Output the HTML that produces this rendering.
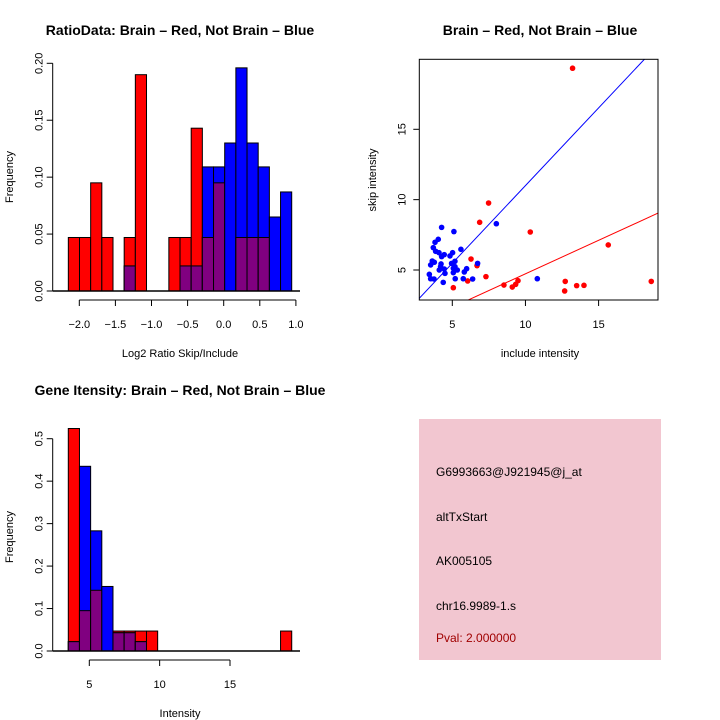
<!DOCTYPE html>
<html><head><meta charset="utf-8"><style>
html,body{margin:0;padding:0;background:#fff;}
svg{display:block;font-family:"Liberation Sans",sans-serif;}
</style></head><body>
<svg id="chart" width="720" height="720" xmlns="http://www.w3.org/2000/svg">
<rect width="720" height="720" fill="#fff"/>
<g id="p1"></g>
<g id="p2"></g>
<g id="p3"></g>
<g>
<rect x="419" y="419" width="242" height="241" fill="#f2c6d0"/>
<text x="436" y="476" font-size="12">G6993663@J921945@j_at</text>
<text x="436" y="521" font-size="12">altTxStart</text>
<text x="436" y="565" font-size="12">AK005105</text>
<text x="436" y="610" font-size="12">chr16.9989-1.s</text>
<text x="436" y="642" font-size="12" fill="#a00000">Pval: 2.000000</text>
</g>
</svg>
<script>
// ---- Data: ratio histogram ----
const ratioStart = -2.152;
const ratioWidth = 0.1547;
const ratioRed = [0.047,0.047,0.095,0.047,0,0.047,0.19,0,0,0.047,0.047,0.143,0.047,0.095,0,0.047,0.047,0.047,0,0];
const ratioBlue = [0,0,0,0,0,0.022,0,0,0,0,0.022,0.022,0.109,0.109,0.13,0.196,0.13,0.109,0.065,0.087];
const ratioXTicks = [-2.0,-1.5,-1.0,-0.5,0.0,0.5,1.0];
const ratioYTicks = [0.00,0.05,0.10,0.15,0.20];
// ---- Data: intensity histogram ----
const intStart = 3.507;
const intWidth = 0.794;
const intRed = [0.524,0.095,0.143,0,0.047,0.047,0.047,0.047,0,0,0,0,0,0,0,0,0,0,0,0.047];
const intBlue = [0.022,0.435,0.283,0.152,0.043,0.043,0.022,0,0,0,0,0,0,0,0,0,0,0,0,0];
const intXTicks = [5,10,15];
const intYTicks = [0.0,0.1,0.2,0.3,0.4,0.5];
// ---- Data: scatter ----
const redX = [13.22,7.48,6.87,10.33,15.66,6.28,6.69,7.30,5.07,6.05,8.53,9.10,9.33,9.49,12.72,12.68,13.50,14.00,18.60];
const redY = [19.34,9.76,8.39,7.70,6.78,5.78,5.31,4.53,3.74,4.22,3.93,3.79,3.98,4.24,4.19,3.51,3.89,3.91,4.19];
const blueX = [4.27,5.11,4.04,3.82,3.70,5.59,3.86,4.09,4.45,5.02,8.01,4.27,4.84,3.63,3.52,3.77,4.23,5.18,4.95,6.73,4.11,4.45,5.07,5.34,5.98,3.43,4.50,5.07,5.82,3.52,3.75,4.38,5.20,5.75,6.39,10.81,4.20,5.18];
const blueY = [8.03,7.73,7.18,6.97,6.59,6.47,6.33,6.23,6.09,6.23,8.29,5.95,6.00,5.64,5.36,5.55,5.43,5.62,5.47,5.47,5.00,5.07,5.12,5.00,5.09,4.69,4.76,4.81,4.86,4.38,4.36,4.12,4.38,4.38,4.36,4.38,5.24,5.24];
const blueSlope = 1.104, blueIntercept = -0.04;
const redSlope = 0.476, redIntercept = -0.03;
const scXTicks = [5,10,15];
const scYTicks = [5,10,15];

const NS = "http://www.w3.org/2000/svg";
function mk(parent, tag, attrs, txt){
  const e = document.createElementNS(NS, tag);
  for (const k in attrs) e.setAttribute(k, attrs[k]);
  if (txt !== undefined) e.textContent = txt;
  parent.appendChild(e);
  return e;
}
function fmt(v, d){ return v.toFixed(d).replace('-', '\u2212'); }

function histogram(g, o){
  const sx = v => o.x0 + (v - o.xv0) * o.xs;
  const sy = v => o.y0 - v * o.ys;
  const t = mk(g,'text',{x:o.tx,y:o.ty,'font-size':14,'font-weight':'bold','text-anchor':'middle'},o.title);
  
  
  o.red.forEach((r,i)=>{
    const b = o.blue[i];
    const xl = sx(o.start + i*o.w), xr = sx(o.start + (i+1)*o.w);
    const draw = (v,col,name)=>{
      const rc = mk(g,'rect',{x:xl,y:sy(v),width:xr-xl,height:Math.max(0,sy(0)-sy(v)),fill:col,stroke:'#000','stroke-width':1});
      
      
    };
    if (r>0) draw(r,'#ff0000','red');
    if (b>0) draw(b,'#0000ff','blue');
    const m = Math.min(r,b);
    if (m>0) draw(m,'#800080','overlap');
  });
  const bl = mk(g,'line',{x1:o.ax,x2:300,y1:sy(0),y2:sy(0),stroke:'#000','stroke-width':1.5});
  
  
  const ya = mk(g,'g',{});
  
  
  mk(ya,'line',{x1:o.ax,x2:o.ax,y1:sy(o.yt[0]),y2:sy(o.yt[o.yt.length-1]),stroke:'#000'});
  o.yt.forEach(v=>{
    mk(ya,'line',{x1:o.ax-6,x2:o.ax,y1:sy(v),y2:sy(v),stroke:'#000'});
    const lt = mk(ya,'text',{x:0,y:0,'font-size':11,'text-anchor':'middle',transform:`translate(${o.ax-10},${sy(v)}) rotate(-90)`},fmt(v,o.yd));
    
    
  });
  const xa = mk(g,'g',{});
  
  
  mk(xa,'line',{x1:sx(o.xt[0]),x2:sx(o.xt[o.xt.length-1]),y1:o.ay,y2:o.ay,stroke:'#000'});
  o.xt.forEach(v=>{
    mk(xa,'line',{x1:sx(v),x2:sx(v),y1:o.ay,y2:o.ay+6,stroke:'#000'});
    const lt = mk(xa,'text',{x:sx(v),y:o.ay+28,'font-size':11,'text-anchor':'middle'},fmt(v,o.xd));
    
    
  });
  const xl = mk(g,'text',{x:o.xlx,y:o.xly,'font-size':11,'text-anchor':'middle'},o.xlab);
  
  
  const yl = mk(g,'text',{x:0,y:0,'font-size':11,'text-anchor':'middle',transform:`translate(13,${o.ylY}) rotate(-90)`},'Frequency');
  
  
}

histogram(document.getElementById('p1'),{
  x0:79.3, xv0:-2, xs:72.2, y0:291, ys:1138.5, start:ratioStart, w:ratioWidth,
  red:ratioRed, blue:ratioBlue, xt:ratioXTicks, yt:ratioYTicks, xd:1, yd:2,
  ax:52.7, ay:300, title:'RatioData: Brain \u2013 Red, Not Brain \u2013 Blue', tx:180, ty:35,
  xlab:'Log2 Ratio Skip/Include', xlx:180, xly:357, ylY:177
});
histogram(document.getElementById('p3'),{
  x0:89.3, xv0:5, xs:14.07, y0:651, ys:424.6, start:intStart, w:intWidth,
  red:intRed, blue:intBlue, xt:intXTicks, yt:intYTicks, xd:0, yd:1,
  ax:52.7, ay:660, title:'Gene Itensity: Brain \u2013 Red, Not Brain \u2013 Blue', tx:180, ty:395,
  xlab:'Intensity', xlx:180, xly:717, ylY:537
});

(function(){
  const g = document.getElementById('p2');
  const L=419.3,R=658,T=59.3,B=300;
  const sx = v => 452.3 + (v-5)*14.63;
  const sy = v => 270 - (v-5)*14.07;
  const xmin=(L-452.3)/14.63+5, xmax=(R-452.3)/14.63+5;
  const t = mk(g,'text',{x:540,y:35,'font-size':14,'font-weight':'bold','text-anchor':'middle'},'Brain \u2013 Red, Not Brain \u2013 Blue');
  
  
  const cp = mk(g,'clipPath',{id:'scclip'});
  mk(cp,'rect',{x:L,y:T,width:R-L,height:B-T});
  const lines = mk(g,'g',{'clip-path':'url(#scclip)'});
  const bl = mk(lines,'line',{x1:sx(xmin),y1:sy(blueSlope*xmin+blueIntercept),x2:sx(xmax),y2:sy(blueSlope*xmax+blueIntercept),stroke:'#0000ff','stroke-width':1});
  
  
  const rl = mk(lines,'line',{x1:sx(xmin),y1:sy(redSlope*xmin+redIntercept),x2:sx(xmax),y2:sy(redSlope*xmax+redIntercept),stroke:'#ff0000','stroke-width':1});
  
  
  redX.forEach((x,i)=>{
    const c = mk(g,'circle',{cx:sx(x),cy:sy(redY[i]),r:2.8,fill:'#ff0000'});
    
    
  });
  blueX.forEach((x,i)=>{
    const c = mk(g,'circle',{cx:sx(x),cy:sy(blueY[i]),r:2.8,fill:'#0000ff'});
    
    
  });
  const box = mk(g,'rect',{x:L,y:T,width:R-L,height:B-T,fill:'none',stroke:'#000','stroke-width':1});
  
  
  scXTicks.forEach(v=>{
    mk(g,'line',{x1:sx(v),x2:sx(v),y1:B,y2:B+6,stroke:'#000'});
    const lt = mk(g,'text',{x:sx(v),y:B+28,'font-size':11,'text-anchor':'middle'},String(v));
    
    
  });
  scYTicks.forEach(v=>{
    mk(g,'line',{x1:L-6,x2:L,y1:sy(v),y2:sy(v),stroke:'#000'});
    const lt = mk(g,'text',{x:0,y:0,'font-size':11,'text-anchor':'middle',transform:`translate(${L-14},${sy(v)}) rotate(-90)`},String(v));
    
    
  });
  const xl = mk(g,'text',{x:540,y:357,'font-size':11,'text-anchor':'middle'},'include intensity');
  
  
  const yl = mk(g,'text',{x:0,y:0,'font-size':11,'text-anchor':'middle',transform:'translate(376,180) rotate(-90)'},'skip intensity');
  
  
})();
</script>
</body></html>
